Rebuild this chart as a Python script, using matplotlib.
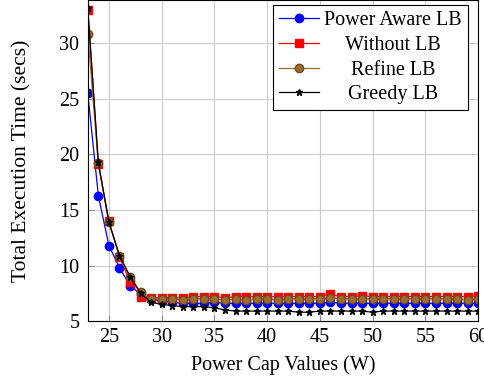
import numpy as np
import matplotlib.pyplot as plt

plt.rcParams['font.family'] = ['Liberation Serif', 'DejaVu Serif']

power_cap = list(range(23, 61))

power_aware = [25.5, 16.3, 11.8, 9.8, 8.2, 7.4, 7.0, 6.8, 6.7, 6.6, 6.6, 6.6, 6.7, 6.6, 6.6,
               6.6, 6.6, 6.6, 6.6, 6.6, 6.6, 6.6, 6.6, 6.7, 6.6, 6.6, 6.6, 6.6, 6.6, 6.6,
               6.6, 6.6, 6.6, 6.6, 6.6, 6.6, 6.6, 6.6]
without_lb = [33.0, 19.1, 14.0, 10.8, 8.5, 7.2, 7.1, 7.1, 7.1, 7.1, 7.2, 7.2, 7.2, 7.1, 7.2,
              7.2, 7.2, 7.2, 7.2, 7.2, 7.2, 7.2, 7.2, 7.4, 7.2, 7.2, 7.3, 7.2, 7.2, 7.2,
              7.2, 7.2, 7.2, 7.2, 7.2, 7.2, 7.2, 7.3]
refine_lb = [30.8, 19.2, 13.9, 10.9, 9.0, 7.6, 7.0, 7.0, 7.0, 6.9, 7.0, 7.0, 7.0, 6.9, 7.0,
             6.9, 7.0, 7.0, 6.9, 7.0, 7.0, 7.0, 7.0, 7.1, 7.0, 7.0, 7.0, 7.0, 7.0, 7.0,
             7.0, 7.0, 7.0, 7.0, 7.0, 7.0, 6.9, 7.0]
greedy_lb = [33.2, 19.3, 13.9, 10.9, 9.0, 7.5, 6.7, 6.5, 6.4, 6.3, 6.3, 6.3, 6.2, 6.0, 5.9,
             5.9, 5.9, 5.9, 5.9, 5.9, 5.8, 5.8, 5.9, 5.9, 5.9, 5.9, 5.9, 5.8, 5.9, 5.9,
             5.9, 5.9, 5.9, 5.9, 5.9, 5.9, 5.9, 5.9]

fs = 14.5

fig = plt.figure(figsize=(4.85, 3.85), dpi=100)
ax = fig.add_axes([0.181, 0.166, 0.805, 0.834])

ax.plot(power_cap, power_aware, color='blue', marker='o', markersize=6, lw=0.9, label='Power Aware LB')
ax.plot(power_cap, without_lb, color='red', marker='s', markersize=6, lw=0.9, label='Without LB')
ax.plot(power_cap, refine_lb, color='#9c6b30', marker='o', markersize=6, lw=0.9,
        mfc='#9c6b30', mec='#6e4a1c', label='Refine LB')
ax.plot(power_cap, greedy_lb, color='black', marker='*', markersize=5, lw=0.9, label='Greedy LB')

ax.set_xlim(23, 60)
ax.set_ylim(5, 33.9)
ax.set_xticks([25, 30, 35, 40, 45, 50, 55, 60])
ax.set_yticks([5, 10, 15, 20, 25, 30])
ax.grid(True, color='#cccccc', lw=0.8)
ax.tick_params(labelsize=fs, direction='in', length=4, color='#888888', pad=6)
ax.tick_params(axis='x', pad=5)
ax.set_axisbelow(True)

ax.set_xlabel('Power Cap Values (W)', fontsize=fs, labelpad=6)
ax.set_ylabel('Total Execution Time (secs)', fontsize=15.5, labelpad=20)

leg = ax.legend(loc='upper right', bbox_to_anchor=(468 / 485, 1 - 5 / 385),
                bbox_transform=fig.transFigure, borderaxespad=0,
                fontsize=fs, fancybox=False, edgecolor='black', framealpha=1,
                handlelength=2.0, handletextpad=0.25, borderpad=0.3,
                labelspacing=0.28)
leg.get_frame().set_linewidth(0.8)

# centre the legend labels like the original
fig.canvas.draw()
texts = leg.get_texts()
widths = [t.get_window_extent().width for t in texts]
maxw = max(widths)
for t, w in zip(texts, widths):
    t.set_position(((maxw - w) / 2, 0))

fig.savefig('out.png', dpi=100)
